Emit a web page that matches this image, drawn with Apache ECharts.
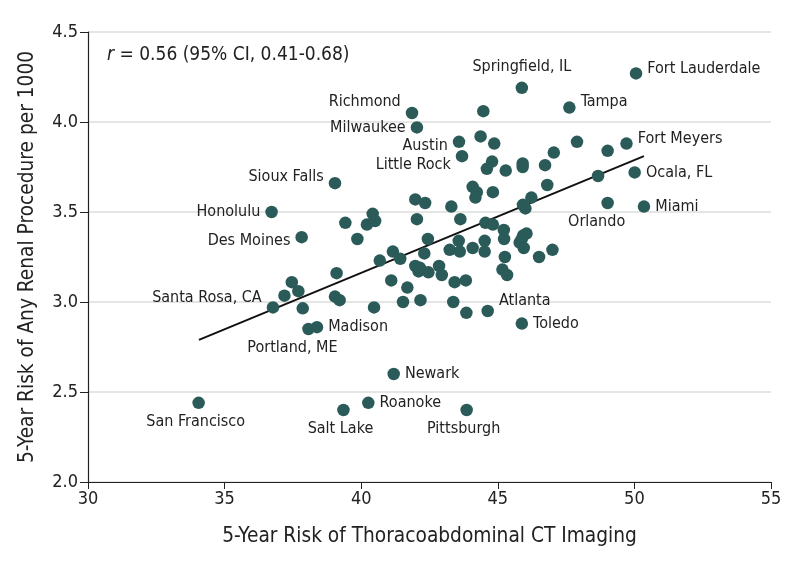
<!DOCTYPE html>
<html>
<head>
<meta charset="utf-8">
<title>CT imaging vs renal procedures</title>
<script src="https://cdn.jsdelivr.net/npm/echarts@6/dist/echarts.min.js"></script>
<style>
  html, body { margin: 0; padding: 0; background: #fff; }
  #chart { width: 798px; height: 567px; }
</style>
</head>
<body>
<div id="chart"></div>
<script>
// city names ('' = unlabeled dot)
var names = [
    'San Francisco', 'Salt Lake', 'Roanoke', 'Newark', 'Pittsburgh',
    'Portland, ME', 'Madison', 'Santa Rosa, CA', 'Atlanta', 'Toledo',
    'Des Moines', 'Honolulu', 'Sioux Falls', 'Milwaukee', 'Richmond',
    'Austin', 'Little Rock', 'Springfield, IL', 'Tampa', 'Fort Lauderdale',
    'Fort Meyers', 'Ocala, FL', 'Miami', 'Orlando'
];
// 5-year risk of CT imaging
var ctRisk = [
    34.05, 39.35, 40.26, 41.19, 43.86, 38.07, 38.38, 36.77, 44.63, 45.88,
    37.82, 36.72, 39.04, 42.04, 41.86, 43.58, 43.69, 45.88, 47.62, 50.06,
    49.71, 50.01, 50.35, 49.02,
    44.47, 44.37, 44.87, 47.90, 47.05, 49.02, 44.79, 44.60, 45.29, 45.91,
    45.91, 46.73, 46.81, 48.67, 44.08, 44.23, 44.18, 44.82, 46.23, 45.92,
    46.01, 43.30, 41.98, 42.34, 42.04, 40.42, 40.51, 40.21, 39.42, 39.86,
    42.44, 43.63, 44.55, 44.82, 45.22, 43.57, 44.52, 45.23, 45.88, 45.93,
    46.05, 45.80, 45.95, 47.00, 43.24, 43.61, 44.08, 44.52, 42.31, 45.26,
    46.51, 41.16, 41.43, 40.68, 41.98, 42.15, 42.10, 42.46, 42.85, 42.95,
    43.42, 43.83, 45.17, 45.34, 41.69, 41.10, 41.53, 42.17, 43.37, 43.85,
    39.10, 37.46, 37.70, 37.19, 37.86, 39.04, 39.21, 40.47
];
// 5-year risk of any renal procedure per 1000
var renalRisk = [
    2.44, 2.40, 2.44, 2.60, 2.40, 2.85, 2.86, 2.97, 2.95, 2.88,
    3.36, 3.50, 3.66, 3.97, 4.05, 3.89, 3.81, 4.19, 4.08, 4.27,
    3.88, 3.72, 3.53, 3.55,
    4.06, 3.92, 3.88, 3.89, 3.83, 3.84, 3.78, 3.74, 3.73, 3.77,
    3.75, 3.76, 3.65, 3.70, 3.64, 3.61, 3.58, 3.61, 3.58, 3.54,
    3.52, 3.53, 3.57, 3.55, 3.46, 3.49, 3.45, 3.43, 3.44, 3.35,
    3.35, 3.46, 3.44, 3.43, 3.40, 3.34, 3.34, 3.35, 3.35, 3.37,
    3.38, 3.33, 3.30, 3.29, 3.29, 3.28, 3.30, 3.28, 3.27, 3.25,
    3.25, 3.28, 3.24, 3.23, 3.20, 3.19, 3.17, 3.165, 3.20, 3.15,
    3.11, 3.12, 3.18, 3.15, 3.08, 3.12, 3.00, 3.01, 3.00, 2.94,
    3.16, 3.11, 3.06, 3.035, 2.965, 3.03, 3.01, 2.97
];
// fitted line end points
var fitX = [34.06, 50.35];
var fitY = [2.79, 3.81];

var xTicks = [30, 35, 40, 45, 50, 55];
var yTicks = [2.0, 2.5, 3.0, 3.5, 4.0, 4.5];

var FONT = '"Liberation Sans Narrow", "DejaVu Sans Condensed", "Roboto Condensed", "Noto Sans", sans-serif';
var DOT = '#2b5b58';

// where each city name sits next to its dot
var labelPlace = {
    'San Francisco': {position: 'bottom', offset: [-3, 0]},
    'Salt Lake': {position: 'bottom', offset: [-3, 0]},
    'Roanoke': {position: 'right'},
    'Newark': {position: 'right'},
    'Pittsburgh': {position: 'bottom', offset: [-3, 0]},
    'Portland, ME': {position: 'bottom', offset: [-16, 0]},
    'Madison': {position: 'right'},
    'Santa Rosa, CA': {position: 'left', offset: [0, -10]},
    'Atlanta': {position: 'right', offset: [0, -10]},
    'Toledo': {position: 'right'},
    'Des Moines': {position: 'left', offset: [0, 4]},
    'Honolulu': {position: 'left'},
    'Sioux Falls': {position: 'left', offset: [0, -6]},
    'Milwaukee': {position: 'left'},
    'Richmond': {position: 'left', offset: [0, -11]},
    'Austin': {position: 'left', offset: [0, 4]},
    'Little Rock': {position: 'left', offset: [0, 9]},
    'Springfield, IL': {position: 'top', offset: [0, -2]},
    'Tampa': {position: 'right', offset: [0, -6]},
    'Fort Lauderdale': {position: 'right', offset: [0, -5]},
    'Fort Meyers': {position: 'right', offset: [0, -5]},
    'Ocala, FL': {position: 'right'},
    'Miami': {position: 'right'},
    'Orlando': {position: 'bottom', offset: [-11, 0]}
};

var points = [];
for (var i = 0; i < ctRisk.length; i++) {
    var nm = names[i] || '';
    var item = {name: nm, value: [ctRisk[i], renalRisk[i]]};
    if (nm) {
        var p = labelPlace[nm];
        item.label = {
            show: true,
            position: p.position,
            offset: p.offset || [0, 0],
            distance: 5,
            formatter: '{b}',
            color: '#222',
            fontSize: 16,
            fontFamily: FONT
        };
    }
    points.push(item);
}

var fitLine = [];
for (var j = 0; j < fitX.length; j++) {
    fitLine.push([fitX[j], fitY[j]]);
}

var option = {
    animation: false,
    backgroundColor: '#fff',
    textStyle: {fontFamily: FONT},
    grid: {left: 88, right: 27, top: 32, bottom: 85},
    graphic: [{
        type: 'text',
        left: 107,
        top: 46,
        style: {
            text: '{i|r} = 0.56 (95% CI, 0.41-0.68)',
            fontSize: 19,
            fontFamily: FONT,
            fill: '#222',
            rich: {
                i: {fontStyle: 'italic', fontSize: 19, fontFamily: FONT, fill: '#222'}
            }
        }
    }],
    xAxis: {
        type: 'value',
        min: xTicks[0],
        max: xTicks[xTicks.length - 1],
        interval: 5,
        name: '5-Year Risk of Thoracoabdominal CT Imaging',
        nameLocation: 'middle',
        nameGap: 44,
        nameTextStyle: {fontSize: 20.7, color: '#222', fontFamily: FONT},
        axisLine: {show: true, lineStyle: {color: '#222', width: 1.2}},
        axisTick: {show: true, length: 7, lineStyle: {color: '#222'}},
        axisLabel: {fontSize: 18, color: '#222', margin: 8, fontFamily: FONT},
        splitLine: {show: false}
    },
    yAxis: {
        type: 'value',
        min: yTicks[0],
        max: yTicks[yTicks.length - 1],
        interval: 0.5,
        name: '5-Year Risk of Any Renal Procedure per 1000',
        nameLocation: 'middle',
        nameGap: 50,
        nameTextStyle: {fontSize: 20.7, color: '#222', fontFamily: FONT},
        axisLine: {show: true, lineStyle: {color: '#222', width: 1.2}},
        axisTick: {show: true, length: 8, lineStyle: {color: '#222'}},
        axisLabel: {
            fontSize: 18, color: '#222', margin: 10, fontFamily: FONT,
            formatter: function (v) { return v.toFixed(1); }
        },
        splitLine: {show: true, lineStyle: {color: '#dcdcdc', width: 1.5}}
    },
    series: [
        {
            type: 'scatter',
            data: points,
            symbolSize: 12.5,
            itemStyle: {color: DOT, opacity: 1},
            z: 3
        },
        {
            type: 'line',
            data: fitLine,
            symbol: 'none',
            lineStyle: {color: '#111', width: 2},
            z: 2,
            silent: true
        }
    ]
};

var myChart = echarts.init(document.getElementById('chart'));
myChart.setOption(option);
</script>
</body>
</html>
